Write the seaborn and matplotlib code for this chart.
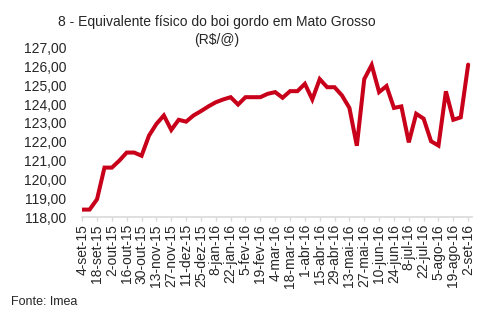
import matplotlib
matplotlib.use("Agg")
import matplotlib.pyplot as plt
import seaborn as sns
import pandas as pd

# Weekly prices (R$/@), 4-set-15 through 2-set-16
weeks = [
    "4-set-15", "11-set-15", "18-set-15", "25-set-15", "2-out-15", "9-out-15",
    "16-out-15", "23-out-15", "30-out-15", "6-nov-15", "13-nov-15", "20-nov-15",
    "27-nov-15", "4-dez-15", "11-dez-15", "18-dez-15", "25-dez-15", "1-jan-16",
    "8-jan-16", "15-jan-16", "22-jan-16", "29-jan-16", "5-fev-16", "12-fev-16",
    "19-fev-16", "26-fev-16", "4-mar-16", "11-mar-16", "18-mar-16", "25-mar-16",
    "1-abr-16", "8-abr-16", "15-abr-16", "22-abr-16", "29-abr-16", "6-mai-16",
    "13-mai-16", "20-mai-16", "27-mai-16", "3-jun-16", "10-jun-16", "17-jun-16",
    "24-jun-16", "1-jul-16", "8-jul-16", "15-jul-16", "22-jul-16", "29-jul-16",
    "5-ago-16", "12-ago-16", "19-ago-16", "26-ago-16", "2-set-16",
]
prices = [
    118.40, 118.40, 118.95, 120.63, 120.63, 121.00, 121.43, 121.43, 121.26,
    122.33, 122.95, 123.40, 122.63, 123.17, 123.07, 123.40, 123.63, 123.88,
    124.10, 124.25, 124.37, 123.98, 124.37, 124.37, 124.37, 124.55, 124.64,
    124.34, 124.69, 124.69, 125.08, 124.25, 125.33, 124.90, 124.90, 124.46,
    123.80, 121.79, 125.33, 126.08, 124.64, 124.96, 123.80, 123.88, 121.97,
    123.49, 123.23, 122.03, 121.80, 124.68, 123.17, 123.30, 126.10,
]
y_ticks = [118, 119, 120, 121, 122, 123, 124, 125, 126, 127]
y_labels = ["118,00", "119,00", "120,00", "121,00", "122,00",
            "123,00", "124,00", "125,00", "126,00", "127,00"]

sns.set_style("white")
plt.rcParams["font.family"] = ["Liberation Sans", "DejaVu Sans"]

df = pd.DataFrame({"pos": range(len(weeks)), "preco": prices})

fig = plt.figure(figsize=(5.02, 3.31), dpi=100)
ax = fig.add_axes([0.163, 0.344, 0.777, 0.512])

sns.lineplot(data=df, x="pos", y="preco", ax=ax, color="#C8001A",
             linewidth=2.9, solid_joinstyle="miter")

ax.set_xlim(-0.05, 52.5)
ax.set_ylim(118, 127)
ax.set_yticks(y_ticks)
ax.set_yticklabels(y_labels, fontsize=10)
ax.set_xticks(range(0, len(weeks), 2))
ax.set_xticklabels(weeks[::2], rotation=90, fontsize=10)
ax.set_xlabel("")
ax.set_ylabel("")

for side in ["left", "right", "top"]:
    ax.spines[side].set_visible(False)
ax.spines["bottom"].set_color("#d9d9d9")
ax.spines["bottom"].set_linewidth(1.2)
ax.tick_params(axis="y", length=0, pad=11)
ax.tick_params(axis="x", length=3, width=1, color="#d9d9d9", pad=2,
               bottom=True)
ax.grid(False)

fig.text(0.432, 0.935, "8 - Equivalente físico do boi gordo em Mato Grosso",
         ha="center", va="center", fontsize=10)
fig.text(0.432, 0.880, "(R$/@)", ha="center", va="center", fontsize=10)
fig.text(0.022, 0.088, "Fonte: Imea", ha="left", va="center", fontsize=9)

fig.savefig("out.png", dpi=100)
